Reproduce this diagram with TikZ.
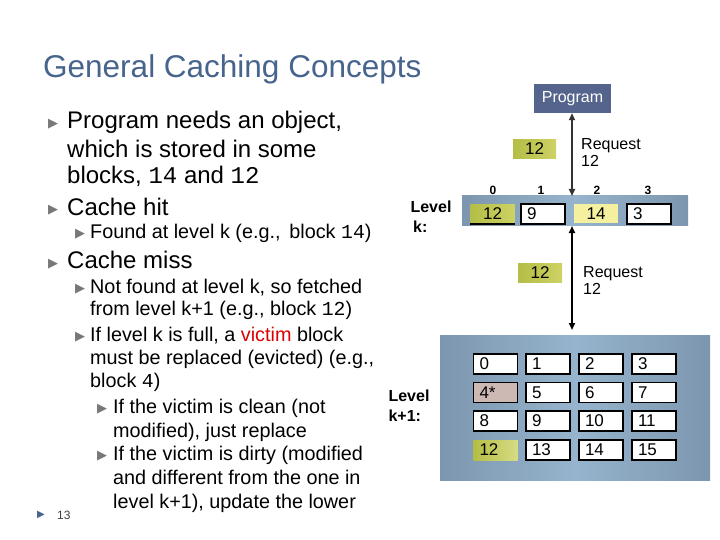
\documentclass[tikz,border=0pt]{standalone}
\usepackage{fontspec}
\setmainfont{Liberation Sans}
\newfontfamily\monof{Liberation Mono}
\newfontfamily\dvs{DejaVu Sans}
\usetikzlibrary{arrows.meta}
\definecolor{titlec}{RGB}{70,100,140}
\definecolor{bandc}{RGB}{150,180,205}
\definecolor{bandd}{RGB}{125,150,175}
\definecolor{ygc}{RGB}{205,210,100}
\definecolor{ygd}{RGB}{180,190,70}
\definecolor{lyc}{RGB}{245,240,160}
\definecolor{pinkc}{RGB}{205,185,180}
\definecolor{progc}{RGB}{85,100,140}
\definecolor{bulc}{RGB}{120,120,120}
\definecolor{vic}{RGB}{220,0,0}
\tikzset{
 band/.style={draw=none,left color=bandd,right color=bandd,middle color=bandc},
 cell/.style={draw=black,line width=1.6pt,fill=white,minimum width=44pt,minimum height=20pt,inner sep=0pt,font=\fontsize{17}{17}\selectfont,text depth=0pt},
 ycell/.style={fill=ygc,minimum width=44pt,minimum height=19pt,inner sep=0pt,font=\fontsize{17}{17}\selectfont},
 lbl/.style={font=\fontsize{16}{17}\selectfont,align=left,inner sep=0pt},
 idx/.style={font=\fontsize{12}{12}\selectfont\bfseries,inner sep=0pt},
 t1/.style={anchor=base west,inner sep=0pt,font=\fontsize{24}{24}\selectfont},
 t2/.style={anchor=base west,inner sep=0pt,font=\fontsize{19.8}{19.8}\selectfont},
 bul/.style={anchor=base west,inner sep=0pt,text=bulc,font=\dvs\fontsize{13}{13}\selectfont},
}
\begin{document}
\begin{tikzpicture}[x=1pt,y=-1pt]
\useasboundingbox (0,0) rectangle (720,540);
\node[anchor=base west,inner sep=0pt,text=titlec,font=\fontsize{31.5}{31.5}\selectfont] (title) at (43,78) {General Caching Concepts};
% bullets
\node[bul] (b1) at (48,128) {▶};
\node[t1] (l1) at (67,129) {Program needs an object,};
\node[t1] (l2) at (67,158) {which is stored in some};
\node[t1] (l3) at (67,184) {blocks, {\monof 14} and {\monof 12}};
\node[bul] (b2) at (48,214) {▶};
\node[t1] (l4) at (67,215) {Cache hit};
\node[bul] (b3) at (75,237) {▶};
\node[t2] (l5) at (90,238) {Found at level k (e.g.,\, block {\monof 14})};
\node[bul] (b4) at (48,267) {▶};
\node[t1] (l6) at (67,268) {Cache miss};
\node[bul] (b5) at (75,292) {▶};
\node[t2] (l7) at (90,293) {Not found at level k, so fetched};
\node[t2] (l8) at (90,315) {from level k+1 (e.g., block {\monof 12})};
\node[bul] (b6) at (75,340) {▶};
\node[t2] (l9) at (90,341) {If level k is full, a \textcolor{vic}{victim} block};
\node[t2] (l10) at (90,364) {must be replaced (evicted) (e.g.,};
\node[t2] (l11) at (90,387) {block {\monof 4})};
\node[bul] (b7) at (97,412) {▶};
\node[t2] (l12) at (113,413) {If the victim is clean (not};
\node[t2] (l13) at (113,437) {modified), just replace};
\node[bul] (b8) at (97,459) {▶};
\node[t2] (l14) at (113,460) {If the victim is dirty (modified};
\node[t2] (l15) at (113,484) {and different from the one in};
\node[t2] (l16) at (113,508) {level k+1), update the lower};
\node[anchor=west,inner sep=0pt,text=titlec,font=\fontsize{10}{10}\selectfont] (tri) at (37,515) {\dvs ▶};
\node[anchor=west,inner sep=0pt,font=\fontsize{12}{12}\selectfont,text=darkgray] (pg) at (57,515) {13};
% program
\node[fill=progc,text=white,minimum width=77pt,minimum height=29pt,inner sep=0pt,font=\fontsize{16}{16}\selectfont] (prog) at (572.5,98.5) {Program};
% level k
\fill[band] (462,196) rectangle (688,226);
\coordinate (ktop) at (572,196);
\coordinate (kbot) at (572,226);
\node[ycell,left color=ygd,right color=ygc] (k0) at (492.5,214) {12};
\draw[line width=1.6pt] (470,224) -- (515,224);
\node[cell,text width=32pt,align=left] (k1) at (543,214) {9};
\node[ycell,fill=lyc,minimum width=44pt] (k2) at (596,214) {14};
\node[cell,text width=32pt,align=left] (k3) at (649,214) {3};
\node[idx] (i0) at (493,190) {0};
\node[idx] (i1) at (541,190) {1};
\node[idx] (i2) at (597,190) {2};
\node[idx] (i3) at (648,190) {3};
\node[lbl,font=\fontsize{16}{20}\selectfont\bfseries] (lk) at (431,217) {Level\\ \,k:};
\draw[{Triangle[length=7pt,width=6pt]}-{Triangle[length=7pt,width=6pt]},line width=2.5pt,draw=darkgray!80!black] (prog.south -| ktop) -- (ktop);
\node[ycell,left color=ygd,right color=ygc,minimum width=43pt] (f1) at (534.5,149) {12};
\node[lbl,anchor=west] (r1) at (581,152) {Request\\12};
% level k+1
\fill[band] (440,335) rectangle (710,480);
\coordinate (k1top) at (572,330);
\draw[{Triangle[length=7pt,width=6pt]}-{Triangle[length=7pt,width=6pt]},line width=2pt] (kbot) -- (k1top);
\node[ycell,left color=ygd,right color=ygc] (f2) at (540,273) {12};
\node[lbl,anchor=west] (r2) at (583,280) {Request\\12};
\node[lbl,font=\fontsize{16}{20}\selectfont\bfseries] (lk1) at (409,406) {Level\\k+1:};
\foreach \r/\y in {0/364,1/392.5,2/421,3/450}{
  \foreach \c/\x in {0/495.5,1/548,2/601,3/654}{
    \pgfmathtruncatemacro{\n}{4*\r+\c}
    \ifnum\n=4
      \node[cell,fill=pinkc,text width=32pt,align=left] (m\n) at (\x,\y) {4*};
    \else\ifnum\n=12
      \node[cell,draw=none,left color=ygd,right color=ygc!80!white,text width=32pt,align=left] (m\n) at (\x,\y) {12};
    \else
      \node[cell,text width=32pt,align=left] (m\n) at (\x,\y) {\n};
    \fi\fi
  }}
\end{tikzpicture}
\end{document}
